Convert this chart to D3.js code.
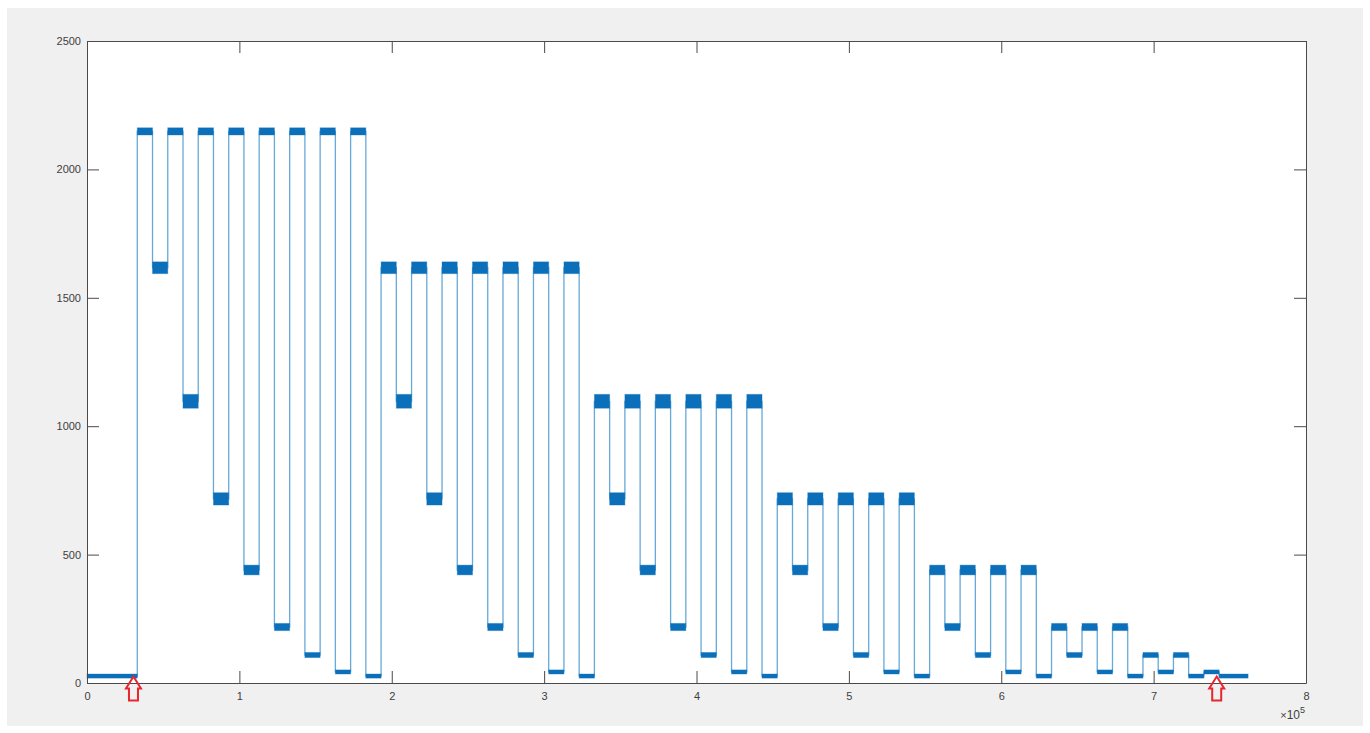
<!DOCTYPE html>
<html>
<head>
<meta charset="utf-8">
<script src="https://cdn.jsdelivr.net/npm/d3@7"></script>
<style>
  html, body { margin: 0; padding: 0; background: #ffffff; }
  svg { display: block; }
  text { font-family: "Liberation Sans", Arial, Helvetica, sans-serif; }
</style>
</head>
<body>
<svg id="chart" width="1370" height="733"></svg>
<script>
// Signal levels (plateau value) and the half-width of their noise band
const levelValues = [2148, 1617, 1097, 717, 440, 218, 109, 43, 27];
const levelNoise  = [14, 23, 27, 24, 19, 14, 10, 8, 8];

// Plateau sequence: start sample (in thousands) and level of each segment
const segmentStartsK = [
  0, 33, 43, 53, 63, 73, 83, 93, 103, 113, 123, 133, 143, 153, 163, 173, 183,
  193, 203, 213, 223, 233, 243, 253, 263, 273, 283, 293, 303, 313, 323,
  333, 343, 353, 363, 373, 383, 393, 403, 413, 423, 433, 443,
  453, 463, 473, 483, 493, 503, 513, 523, 533, 543,
  553, 563, 573, 583, 593, 603, 613, 623,
  633, 643, 653, 663, 673, 683,
  693, 703, 713, 723,
  733, 743
];
const segmentValues = [
  27,
  2148, 1617, 2148, 1097, 2148, 717, 2148, 440, 2148, 218, 2148, 109, 2148, 43, 2148, 27,
  1617, 1097, 1617, 717, 1617, 440, 1617, 218, 1617, 109, 1617, 43, 1617, 27,
  1097, 717, 1097, 440, 1097, 218, 1097, 109, 1097, 43, 1097, 27,
  717, 440, 717, 218, 717, 109, 717, 43, 717, 27,
  440, 218, 440, 109, 440, 43, 440, 27,
  218, 109, 218, 43, 218, 27,
  109, 43, 109, 27,
  43, 27
];
const traceEndK = 762;

// Axis ticks
const xTicks = [0, 100000, 200000, 300000, 400000, 500000, 600000, 700000, 800000];
const yTicks = [0, 500, 1000, 1500, 2000, 2500];

// Marker arrows (sample position)
const arrowX = [30500, 741400];
const arrowLevel = 27;

const svg = d3.select("#chart");
const W = 1370, H = 733;
const plot = { left: 87, right: 1306, top: 41, bottom: 683 };

// figure background
svg.append("rect").attr("x", 7).attr("y", 8).attr("width", W - 14).attr("height", H - 15)
  .attr("fill", "#f0f0f0");
svg.append("rect").attr("x", plot.left).attr("y", plot.top)
  .attr("width", plot.right - plot.left).attr("height", plot.bottom - plot.top)
  .attr("fill", "#ffffff");

const x = d3.scaleLinear().domain([0, 800000]).range([plot.left, plot.right]);
const y = d3.scaleLinear().domain([0, 2500]).range([plot.bottom, plot.top]);

const segments = segmentStartsK.map((s, i) => ({
  start: s * 1000,
  end: (i + 1 < segmentStartsK.length ? segmentStartsK[i + 1] : traceEndK) * 1000,
  value: segmentValues[i],
  noise: levelNoise[levelValues.indexOf(segmentValues[i])]
}));

const g = svg.append("g");
const lineColor = "#0072BD";

// step trace
const pts = segments.map(d => [d.start, d.value]);
pts.push([traceEndK * 1000, segments[segments.length - 1].value]);
const line = d3.line().x(d => x(d[0])).y(d => y(d[1])).curve(d3.curveStepAfter);
g.append("path").datum(pts)
  .attr("d", line)
  .attr("fill", "none")
  .attr("stroke", lineColor)
  .attr("stroke-width", 1.3)
  .attr("stroke-opacity", 0.6);

// noise bands on each plateau
g.selectAll("rect.band").data(segments).join("rect")
  .attr("class", "band")
  .attr("x", d => x(d.start))
  .attr("width", d => x(d.end) - x(d.start))
  .attr("y", d => y(d.value + d.noise))
  .attr("height", d => y(d.value - d.noise) - y(d.value + d.noise))
  .attr("fill", "#0b6fba")
  .attr("stroke", "#0b6fba")
  .attr("stroke-opacity", 0.35)
  .attr("stroke-width", 1);

// axes (box with inward ticks)
const axisColor = "#4a4a4a";
const tickLen = 12;
function styleAxis(sel) {
  sel.selectAll("path, line").attr("stroke", axisColor).attr("stroke-width", 1);
  sel.selectAll("text").attr("fill", "#404040").attr("font-size", 11);
}
svg.append("g").attr("transform", `translate(0,${plot.bottom})`)
  .call(d3.axisBottom(x).tickValues(xTicks).tickSizeInner(-tickLen).tickSizeOuter(0)
    .tickPadding(9).tickFormat(d => d / 100000))
  .call(styleAxis);
svg.append("g").attr("transform", `translate(0,${plot.top})`)
  .call(d3.axisTop(x).tickValues(xTicks).tickSizeInner(-tickLen).tickSizeOuter(0).tickFormat(""))
  .call(styleAxis);
svg.append("g").attr("transform", `translate(${plot.left},0)`)
  .call(d3.axisLeft(y).tickValues(yTicks).tickSizeInner(-tickLen).tickSizeOuter(0)
    .tickPadding(6).tickFormat(d3.format("d")))
  .call(styleAxis);
svg.append("g").attr("transform", `translate(${plot.right},0)`)
  .call(d3.axisRight(y).tickValues(yTicks).tickSizeInner(-tickLen).tickSizeOuter(0).tickFormat(""))
  .call(styleAxis);
svg.selectAll(".domain").attr("fill", "none");

// exponent label
const expo = svg.append("text").attr("x", plot.right - 1).attr("y", 719)
  .attr("text-anchor", "end").attr("fill", "#404040").attr("font-size", 12);
expo.append("tspan").attr("font-size", 11).text("×");
expo.append("tspan").text("10");
expo.append("tspan").attr("font-size", 9).attr("dy", -6).text("5");

// red hollow arrows
const arrowPath = "M0,0 L7.5,12 L4.5,12 L4.5,24 L-4.5,24 L-4.5,12 L-7.5,12 Z";
svg.selectAll("path.arrow").data(arrowX).join("path")
  .attr("class", "arrow")
  .attr("transform", d => `translate(${x(d)},${y(arrowLevel) + 0.5})`)
  .attr("d", arrowPath)
  .attr("fill", "none")
  .attr("stroke", "#e8262d")
  .attr("stroke-width", 2)
  .attr("stroke-linejoin", "miter");
</script>
</body>
</html>
